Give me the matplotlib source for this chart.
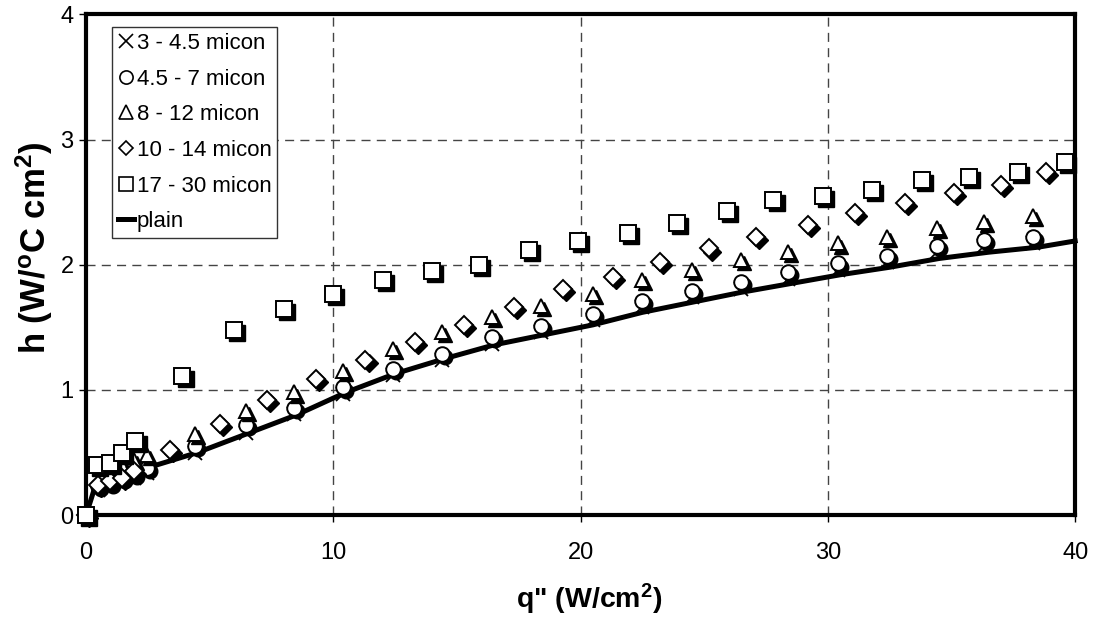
import matplotlib
matplotlib.use("Agg")
import matplotlib.pyplot as plt
from matplotlib.transforms import offset_copy
from matplotlib.lines import Line2D

plt.rcParams["font.family"] = ["Liberation Sans", "DejaVu Sans"]
plt.rcParams["mathtext.fontset"] = "custom"
plt.rcParams["mathtext.rm"] = "Liberation Sans:bold"
plt.rcParams["mathtext.it"] = "Liberation Sans:bold"
plt.rcParams["mathtext.bf"] = "Liberation Sans:bold"

# 3 - 4.5 micon
cross_x = [0, 0.5, 0.95, 1.45, 1.95, 2.45, 4.4, 6.45, 8.4, 10.4, 12.4, 14.4, 16.4, 18.4, 20.5, 22.5, 24.5, 26.5, 28.4, 30.4, 32.4, 34.4, 36.3, 38.3]
cross_y = [0, 0.20, 0.23, 0.27, 0.30, 0.34, 0.50, 0.66, 0.81, 0.97, 1.12, 1.24, 1.37, 1.46, 1.56, 1.66, 1.74, 1.81, 1.89, 1.96, 2.02, 2.10, 2.15, 2.17]
# 4.5 - 7 micon
circ_x = [0, 0.5, 0.95, 1.45, 1.95, 2.45, 4.4, 6.45, 8.4, 10.4, 12.4, 14.4, 16.4, 18.4, 20.5, 22.5, 24.5, 26.5, 28.4, 30.4, 32.4, 34.4, 36.3, 38.3]
circ_y = [0, 0.23, 0.26, 0.30, 0.33, 0.38, 0.55, 0.72, 0.86, 1.02, 1.17, 1.29, 1.42, 1.51, 1.61, 1.71, 1.79, 1.86, 1.94, 2.01, 2.07, 2.15, 2.20, 2.22]
# 8 - 12 micon
tri_x = [0, 1.45, 1.95, 2.45, 4.4, 6.45, 8.4, 10.4, 12.4, 14.4, 16.4, 18.4, 20.5, 22.5, 24.5, 26.5, 28.4, 30.4, 32.4, 34.4, 36.3, 38.3]
tri_y = [0, 0.40, 0.44, 0.48, 0.65, 0.83, 0.98, 1.15, 1.33, 1.46, 1.58, 1.67, 1.77, 1.88, 1.96, 2.04, 2.10, 2.17, 2.22, 2.29, 2.34, 2.39]
# 10 - 14 micon
dia_x = [0, 0.5, 0.95, 1.45, 1.95, 3.4, 5.4, 7.3, 9.3, 11.3, 13.3, 15.3, 17.3, 19.3, 21.3, 23.2, 25.2, 27.1, 29.2, 31.1, 33.1, 35.1, 37.0, 38.8]
dia_y = [0, 0.24, 0.27, 0.30, 0.35, 0.52, 0.73, 0.92, 1.09, 1.24, 1.38, 1.52, 1.66, 1.81, 1.90, 2.02, 2.13, 2.22, 2.32, 2.41, 2.49, 2.57, 2.64, 2.74]
# 17 - 30 micon
sq_x = [0, 0.45, 0.95, 1.45, 2.0, 3.9, 6.0, 8.0, 10.0, 12.0, 14.0, 15.9, 17.9, 19.9, 21.9, 23.9, 25.9, 27.8, 29.8, 31.8, 33.8, 35.7, 37.7, 39.6]
sq_y = [0, 0.40, 0.42, 0.50, 0.59, 1.11, 1.48, 1.65, 1.77, 1.88, 1.95, 2.00, 2.12, 2.19, 2.25, 2.33, 2.43, 2.52, 2.55, 2.60, 2.68, 2.70, 2.74, 2.82]
# plain
plain_x = [0, 0.4, 2.5, 4.5, 6.5, 8.5, 10.5, 12.5, 14.5, 16.5, 18.5, 20.5, 22.5, 24.5, 26.5, 28.5, 30.5, 32.5, 34.5, 36.5, 38.5, 40]
plain_y = [0, 0.25, 0.38, 0.50, 0.65, 0.80, 0.98, 1.13, 1.25, 1.36, 1.44, 1.52, 1.62, 1.70, 1.78, 1.85, 1.92, 1.98, 2.05, 2.10, 2.14, 2.19]

labels = ["3 - 4.5 micon", "4.5 - 7 micon", "8 - 12 micon", "10 - 14 micon", "17 - 30 micon", "plain"]

fig = plt.figure(figsize=(10.96, 6.2), dpi=100)
ax = fig.add_axes([0.0785, 0.169, 0.9025, 0.808])

ax.plot(plain_x, plain_y, color="black", lw=3.6, zorder=3, clip_on=False)

shadow = offset_copy(ax.transData, fig=fig, x=2.2, y=-2.2, units="points")
ax.plot(cross_x, cross_y, ls="none", marker="x", ms=9.5, mew=1.3, color="black", zorder=4, clip_on=False)
series = [(circ_x, circ_y, "o", 10.5), (tri_x, tri_y, "^", 10.5),
          (dia_x, dia_y, "D", 9), (sq_x, sq_y, "s", 11.2)]
z = 5
for xs, ys, m, s in series:
    ax.plot(xs, ys, ls="none", marker=m, ms=s, mfc="black", mec="black",
            transform=shadow, zorder=z, clip_on=False)
    ax.plot(xs, ys, ls="none", marker=m, ms=s, mfc="white", mec="black",
            mew=1.4, zorder=z + 0.5, clip_on=False)
    z += 1

ax.set_xlim(0, 40)
ax.set_ylim(0, 4)
ax.set_xticks([0, 10, 20, 30, 40])
ax.set_yticks([0, 1, 2, 3, 4])
ax.grid(True, color="#444444", lw=1.0, ls=(0, (6.5, 4.5)))
ax.set_axisbelow(True)
for sp in ax.spines.values():
    sp.set_linewidth(3)
ax.tick_params(direction="out", length=5, width=1, labelsize=17)
ax.tick_params(axis="x", pad=14)
ax.tick_params(axis="y", pad=4)

ax.set_xlabel(r'q" (W/cm$^{\mathrm{2}}$)', fontsize=20.5, fontweight="bold", labelpad=13)
ax.set_ylabel(r'h (W/$^{\mathrm{o}}$C cm$^{\mathrm{2}}$)', fontsize=25, fontweight="bold", labelpad=4)
ax.xaxis.label.set_x(0.509)
ax.yaxis.label.set_y(0.535)

handles = [
    Line2D([], [], ls="none", marker="x", ms=9.5, mew=1.2, color="black"),
    Line2D([], [], ls="none", marker="o", ms=9.5, mfc="white", mec="black", mew=1.2),
    Line2D([], [], ls="none", marker="^", ms=9.5, mfc="white", mec="black", mew=1.2),
    Line2D([], [], ls="none", marker="D", ms=7.5, mfc="white", mec="black", mew=1.2),
    Line2D([], [], ls="none", marker="s", ms=9.5, mfc="white", mec="black", mew=1.2),
    Line2D([], [], color="black", lw=3.6),
]
leg = ax.legend(handles, labels, loc="upper left", bbox_to_anchor=(0.0265, 0.974),
                fontsize=16, frameon=True, fancybox=False, framealpha=1,
                edgecolor="#333333", handlelength=0.75, handletextpad=0.1,
                labelspacing=0.66, borderpad=0.25, borderaxespad=0)
leg.get_frame().set_linewidth(1.0)
leg.set_zorder(20)

fig.savefig("out.png", dpi=100)
